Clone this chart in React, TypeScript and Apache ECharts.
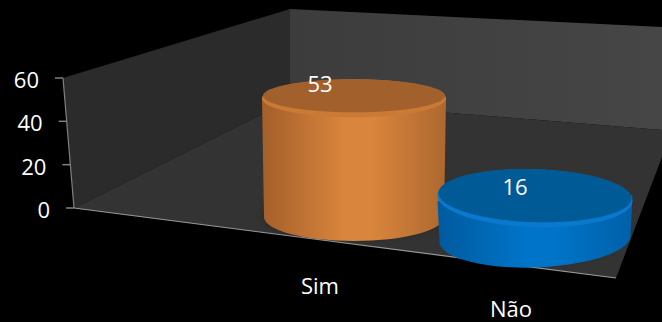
import React, { useEffect, useRef } from "react";
import * as echarts from "echarts";

const categories = ["Sim", "Não"];
const values = [53, 16];
const yTicks = [0, 20, 40, 60];

const FONT = '"Open Sans", sans-serif';
const W = 662;
const H = 322;

// Perspective of the fake 3D box: per-category floor shift and sizes.
const persp = [
  { dx: 0, floor: 9, scale: 1.035, rx: 92, ryTop: 19, ryBase: 24, inset: 2, tilt: 0, labelX: 320, labelY: 285, valDx: -34, valDy: -15, shadow: 0.9 },
  { dx: 0, floor: 29, scale: 1.12, rx: 97.5, ryTop: 29, ryBase: 29, inset: 2, tilt: -0.03, labelX: 511, labelY: 308, valDx: -20, valDy: -12, shadow: 0.25 },
];
const palette = [
  { edge: "#a45f2a", mid: "#d9853d", edge2: "#ad682f", top: "#a1602c", rim: "#c97a35" },
  { edge: "#005a9e", mid: "#0074c8", edge2: "#0060a8", top: "#005a96", rim: "#0a78cc" },
];

const walls = [
  { points: [[63, 78], [290, 9], [290, 100], [74, 208]], fill: "#2b2b2b" },
  { points: [[290, 9], [662, 27], [662, 130], [290, 100]], fill: new echarts.graphic.LinearGradient(0, 0, 1, 0, [
    { offset: 0, color: "#3c3c3c" },
    { offset: 1, color: "#464646" },
  ]) },
  { points: [[74, 208], [290, 100], [662, 130], [662, 157], [616, 278]], fill: "#333333" },
];

function renderCylinder(params: any, api: any) {
  const i = api.value(0);
  const v = api.value(1);
  const p = persp[i];
  const c = palette[i];
  const base = api.coord([i, 0]);
  const top = api.coord([i, v]);
  const cx = base[0] + p.dx;
  const by = base[1] + p.floor;
  const ty = by - (base[1] - top[1]) * p.scale;
  const lx = cx - p.rx;
  const rx = cx + p.rx;
  const dyT = Math.tan(-p.tilt) * p.rx;
  const side =
    `M${lx} ${ty + dyT}L${lx + p.inset} ${by + dyT}` +
    `A${p.rx - p.inset} ${p.ryBase} ${(p.tilt * 180) / Math.PI} 0 0 ${rx - p.inset} ${by - dyT}` +
    `L${rx} ${ty - dyT}Z`;
  return {
    type: "group",
    children: [
      {
        type: "ellipse",
        shape: { cx: cx - 2, cy: by - 3, rx: p.rx - 8, ry: p.ryBase - 6 },
        style: { fill: "#333333", shadowBlur: 14, shadowColor: `rgba(0,0,0,${p.shadow})` },
      },
      {
        type: "path",
        shape: { pathData: side },
        style: {
          fill: new echarts.graphic.LinearGradient(0, 0, 1, 0, [
            { offset: 0, color: c.edge },
            { offset: 0.45, color: c.mid },
            { offset: 0.6, color: c.mid },
            { offset: 1, color: c.edge2 },
          ]),
        },
      },
      {
        type: "ellipse",
        x: cx,
        y: ty,
        rotation: p.tilt,
        shape: { cx: 0, cy: 0, rx: p.rx, ry: p.ryTop },
        style: { fill: c.rim },
      },
      {
        type: "ellipse",
        x: cx,
        y: ty - 2.5,
        rotation: p.tilt,
        shape: { cx: 0, cy: 0, rx: p.rx - 1, ry: p.ryTop - 2.5 },
        style: { fill: c.top },
      },
      {
        type: "text",
        style: {
          text: String(v),
          x: cx + p.valDx,
          y: ty + p.valDy,
          fill: "#ffffff",
          font: `22px ${FONT}`,
          align: "center",
          verticalAlign: "middle",
        },
      },
      {
        type: "text",
        style: {
          text: categories[i],
          x: p.labelX,
          y: p.labelY,
          fill: "#ffffff",
          font: `22px ${FONT}`,
          align: "center",
          verticalAlign: "middle",
        },
      },
    ],
  };
}

function axisXAt(v: number) {
  return 74 - (11 * v) / 60;
}

function renderYTick(params: any, api: any) {
  const v = api.value(1);
  const y = api.coord([0, v])[1];
  const x = axisXAt(v);
  return {
    type: "group",
    children: [
      { type: "line", shape: { x1: x - 8, y1: y, x2: x, y2: y }, style: { stroke: "#808080", lineWidth: 1.5 } },
      {
        type: "text",
        style: {
          text: String(v),
          x: x - 24,
          y: y + 1,
          fill: "#ffffff",
          font: `22px ${FONT}`,
          align: "right",
          verticalAlign: "middle",
        },
      },
    ],
  };
}

export default function App() {
  const ref = useRef<HTMLDivElement>(null);
  useEffect(() => {
    document.body.style.margin = "0";
    document.body.style.background = "#000";
    const chart = echarts.init(ref.current!, null, { renderer: "svg" });
    chart.setOption({
      animation: false,
      backgroundColor: "#000000",
      grid: { left: 263.5, width: 362, top: 78, height: 130 },
      xAxis: { type: "category", data: categories, show: false },
      yAxis: { type: "value", min: 0, max: 60, interval: 20, show: false },
      graphic: [
        ...walls.map((w) => ({ type: "polygon", z: 0, shape: { points: w.points }, style: { fill: w.fill } })),
        { type: "line", z: 1, shape: { x1: 63, y1: 78, x2: 74, y2: 208 }, style: { stroke: "#808080", lineWidth: 1.2 } },
        { type: "line", z: 1, shape: { x1: 74, y1: 208, x2: 616, y2: 278 }, style: { stroke: "#9a9a9a", lineWidth: 1.2 } },
      ],
      series: [
        { type: "custom", coordinateSystem: "cartesian2d", clip: false, renderItem: renderYTick, data: yTicks.map((t) => [0, t]), z: 3, silent: true },
        { type: "custom", coordinateSystem: "cartesian2d", clip: false, renderItem: renderCylinder, data: values.map((v, i) => [i, v]), z: 4, silent: true },
      ],
    });
    return () => chart.dispose();
  }, []);
  return <div ref={ref} style={{ width: W, height: H }} />;
}
